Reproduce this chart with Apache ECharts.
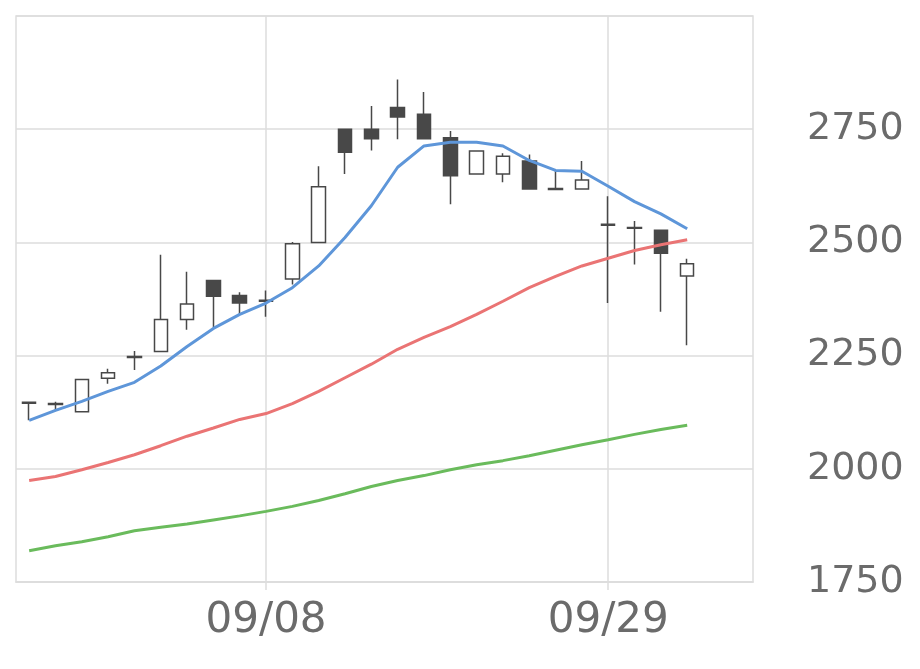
<!DOCTYPE html>
<html>
<head>
<meta charset="utf-8">
<script src="https://cdn.jsdelivr.net/npm/echarts@6/dist/echarts.min.js"></script>
<style>html,body{margin:0;padding:0;background:#fff;}#c{width:920px;height:669px;}</style>
</head>
<body>
<div id="c"></div>
<script>
const dates = ['08/26','08/27','08/28','08/29','09/01','09/02','09/03','09/04','09/05','09/08','09/09','09/10','09/11','09/12','09/16','09/17','09/18','09/19','09/22','09/24','09/25','09/26','09/29','09/30','10/01','10/02','10/03','10/06'];
const shownDates = ['09/08','09/29'];
// [open, close, low, high]
const ohlc = [
  [2147,2145,2107,2147],
  [2144,2142,2129,2148],
  [2126,2197,2126,2197],
  [2200,2212,2188,2221],
  [2248,2246,2218,2260],
  [2259,2330,2259,2473],
  [2330,2364,2307,2435],
  [2416,2381,2312,2416],
  [2383,2366,2340,2390],
  [2372,2370,2336,2394],
  [2419,2497,2407,2501],
  [2500,2623,2500,2668],
  [2750,2699,2651,2750],
  [2750,2729,2703,2801],
  [2798,2777,2728,2860],
  [2783,2729,2728,2832],
  [2731,2647,2584,2746],
  [2651,2702,2651,2702],
  [2651,2690,2633,2697],
  [2680,2618,2618,2694],
  [2619,2617,2616,2659],
  [2618,2638,2618,2680],
  [2540,2538,2366,2602],
  [2533,2531,2451,2547],
  [2527,2476,2347,2527],
  [2426,2453,2273,2464]
];
const ma5 = [2107,2129,2149,2171,2191,2227,2270,2310,2341,2366,2400,2448,2511,2581,2666,2713,2721,2721,2713,2681,2659,2657,2624,2590,2563,2530];
const ma25 = [1974,1983,1998,2014,2031,2051,2072,2090,2109,2122,2144,2171,2201,2231,2264,2290,2314,2341,2370,2400,2425,2448,2465,2482,2495,2506];
const ma75 = [1819,1830,1839,1850,1863,1871,1878,1887,1896,1906,1917,1930,1945,1961,1974,1985,1998,2009,2018,2029,2041,2053,2064,2076,2087,2096];
const yMin = 1750, yMax = 3000, yStep = 250;

const showIdx = (i, v) => shownDates.indexOf(v) >= 0 || shownDates.indexOf(dates[i]) >= 0;
const dark = '#484848';
const chart = echarts.init(document.getElementById('c'), null, {renderer: 'canvas'});
chart.setOption({
  animation: false,
  backgroundColor: '#ffffff',
  grid: {left: 16, right: 167, top: 16, bottom: 87, show: true, borderColor: '#dddddd', borderWidth: 1.5},
  xAxis: {
    type: 'category',
    data: dates,
    boundaryGap: true,
    axisLine: {show: true, lineStyle: {color: '#dddddd', width: 1.5}},
    axisTick: {show: true, alignWithLabel: true, interval: showIdx, length: 8, lineStyle: {color: '#dddddd', width: 1.5}},
    splitLine: {show: true, alignWithLabel: true, interval: showIdx, lineStyle: {color: '#dddddd', width: 1.5}},
    axisLabel: {interval: showIdx, color: '#6b6b6b', fontSize: 42, fontFamily: 'DejaVu Sans', margin: 18}
  },
  yAxis: {
    type: 'value',
    position: 'right',
    min: yMin, max: yMax, interval: yStep,
    axisLine: {show: false},
    axisTick: {show: false},
    splitLine: {show: true, lineStyle: {color: '#dddddd', width: 1.5}},
    axisLabel: {color: '#6b6b6b', fontSize: 38, fontFamily: 'DejaVu Sans', margin: 54, showMaxLabel: false,
                formatter: v => String(v)}
  },
  series: [
    {
      type: 'candlestick',
      data: ohlc,
      barWidth: 14,
      itemStyle: {
        color: '#ffffff', color0: dark,
        borderColor: dark, borderColor0: dark, borderColorDoji: dark,
        borderWidth: 1.5
      }
    },
    {type: 'line', data: ma5, symbol: 'none', lineStyle: {color: '#5e96d9', width: 3}, z: 5},
    {type: 'line', data: ma25, symbol: 'none', lineStyle: {color: '#ea7474', width: 3}, z: 5},
    {type: 'line', data: ma75, symbol: 'none', lineStyle: {color: '#6abb5c', width: 3}, z: 5}
  ]
});
</script>
</body>
</html>
